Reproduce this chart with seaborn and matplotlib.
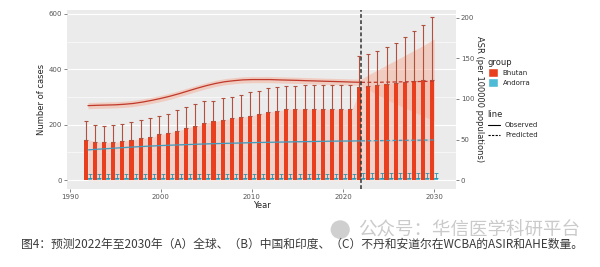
import numpy as np
import pandas as pd
import matplotlib
matplotlib.use("Agg")
import matplotlib.pyplot as plt
from matplotlib.lines import Line2D
from matplotlib.patches import Patch, Ellipse
import seaborn as sns

# ---------------- data ----------------
years = list(range(1992, 2031))
bhutan_cases = [145, 139, 136, 136, 142, 145, 151, 155, 165, 172, 179, 189, 197, 206, 212,
                218, 223, 228, 233, 240, 247, 251, 256, 257, 257, 256, 256, 256, 256, 256,
                337, 341, 345, 348, 351, 354, 357, 360, 363]
bhutan_upper = [212, 200, 196, 199, 202, 210, 216, 224, 230, 240, 252, 263, 275, 284, 287,
                295, 301, 309, 318, 322, 332, 335, 339, 340, 342, 342, 342, 342, 342, 342,
                447, 455, 465, 480, 495, 516, 538, 560, 589]
andorra_cases = [9, 9, 9, 9, 9, 9, 9, 9, 9, 9, 9, 9, 9, 9, 9, 9, 9, 9, 9, 9,
                 9, 9, 9, 9, 9, 9, 9, 9, 9, 9, 8, 8, 8, 8, 8, 8, 8, 8, 8]
andorra_upper = [24, 24, 24, 24, 24, 24, 24, 24, 24, 24, 24, 24, 24, 24, 24, 24, 24, 24, 24, 24,
                 24, 24, 24, 24, 24, 24, 24, 24, 24, 24, 25, 25, 25, 25, 25, 25, 25, 25, 25]
bhutan_asr = [91.8, 92.2, 92.5, 92.8, 93.5, 94.5, 96.2, 98.3, 100.7, 103.4, 106.5, 109.9, 113.3,
              116.4, 119.1, 121.2, 122.5, 123.5, 123.9, 123.9, 123.9, 123.5, 123.2, 122.9, 122.5,
              122.2, 121.8, 121.5, 121.2, 120.8, 120.5, 120.5, 120.6, 120.8, 121.0, 121.2,
              121.4, 121.6, 121.8]
bhutan_asr_lo = [88.0, 88.4, 88.7, 89.0, 89.7, 90.7, 92.4, 94.5, 96.9, 99.6, 102.7, 106.1, 109.5,
                 112.6, 115.3, 117.4, 118.7, 119.7, 120.1, 120.1, 120.1, 119.7, 119.4, 119.1, 118.7,
                 118.4, 118.0, 117.7, 117.4, 117.0, 116.5, 110.0, 104.0, 98.0, 93.0, 88.0,
                 83.0, 78.0, 73.0]
bhutan_asr_hi = [95.6, 96.0, 96.3, 96.6, 97.3, 98.3, 100.0, 102.1, 104.5, 107.2, 110.3, 113.7, 117.1,
                 120.2, 122.9, 125.0, 126.3, 127.3, 127.7, 127.7, 127.7, 127.3, 127.0, 126.7, 126.3,
                 126.0, 125.6, 125.3, 125.0, 124.6, 124.5, 131.0, 137.0, 143.0, 149.0, 155.0,
                 161.0, 167.0, 174.0]
andorra_asr = [37.3, 38.1, 38.8, 39.5, 40.2, 40.9, 41.5, 42.1, 42.6, 43.1, 43.5, 43.9, 44.3,
               44.7, 45.0, 45.3, 45.6, 45.9, 46.2, 46.5, 46.7, 46.9, 47.1, 47.3, 47.5, 47.7,
               47.9, 48.1, 48.2, 48.3, 48.4, 48.55, 48.7, 48.85, 49.0, 49.1, 49.2, 49.35, 49.5]
andorra_asr_lo = [36.6, 37.4, 38.1, 38.8, 39.5, 40.2, 40.8, 41.4, 41.9, 42.4, 42.8, 43.2, 43.6,
                  44.0, 44.3, 44.6, 44.9, 45.2, 45.5, 45.8, 46.0, 46.2, 46.4, 46.6, 46.8, 47.0,
                  47.2, 47.4, 47.5, 47.6, 47.7, 47.7, 47.7, 47.7, 47.7, 47.7, 47.6, 47.6, 47.6]
andorra_asr_hi = [38.0, 38.8, 39.5, 40.2, 40.9, 41.6, 42.2, 42.8, 43.3, 43.8, 44.2, 44.6, 45.0,
                  45.4, 45.7, 46.0, 46.3, 46.6, 46.9, 47.2, 47.4, 47.6, 47.8, 48.0, 48.2, 48.4,
                  48.6, 48.8, 48.9, 49.0, 49.1, 49.4, 49.7, 50.0, 50.3, 50.5, 50.8, 51.1, 51.4]
groups = ["Bhutan", "Andorra"]
split_year = 2022
x_ticks = [1990, 2000, 2010, 2020, 2030]
x_minor = [1995, 2005, 2015, 2025]
left_ticks = [0, 200, 400, 600]
left_minor = [100, 300, 500]
right_ticks = [0, 50, 100, 150, 200]
caption = "图4：预测2022年至2030年（A）全球、（B）中国和印度、（C）不丹和安道尔在WCBA的ASIR和AHE数量。"
watermark = "公众号：华信医学科研平台"

# ---------------- style ----------------
sns.set_theme(style="darkgrid")
plt.rcParams["font.family"] = ["DejaVu Sans", "Noto Sans CJK SC"]
RED = "#E8401E"
TEAL = "#4DBBD5"
RED_LINE = "#C0392B"
TEAL_LINE = "#3E9CC0"
SCALE = 2.93
YL = (-32, 614)

df = pd.DataFrame({
    "year": years * 2,
    "cases": bhutan_cases + andorra_cases,
    "group": ["Bhutan"] * len(years) + ["Andorra"] * len(years),
})
yrs = np.array(years, dtype=float)
bc = np.array(bhutan_cases, float)
ac = np.array(andorra_cases, float)

fig = plt.figure(figsize=(6.0, 2.67), dpi=100)
ax = fig.add_axes([0.1117, 0.292, 0.6483, 0.6705])   # bars + left axis
axr = ax.twinx()                                      # background, grid, ribbons
ax2 = ax.twinx()                                      # lines + right axis
axr.set_zorder(1)
ax.set_zorder(2)
ax2.set_zorder(3)
ax.patch.set_visible(False)
ax2.patch.set_visible(False)
axr.patch.set_visible(True)
axr.patch.set_facecolor("#EBEBEB")

for a in (ax, axr, ax2):
    a.set_xlim(1989.7, 2032.4)
    for s in a.spines.values():
        s.set_visible(False)
ax.set_ylim(*YL)
axr.set_ylim(YL[0] / SCALE, YL[1] / SCALE)
ax2.set_ylim(YL[0] / SCALE, YL[1] / SCALE)

# background grid on the bottom layer (aligned with left ticks)
ax.grid(False)
ax2.grid(False)
axr.set_xticks(x_ticks)
axr.set_xticks(x_minor, minor=True)
axr.set_yticks([t / SCALE for t in left_ticks])
axr.set_yticks([t / SCALE for t in left_minor], minor=True)
axr.grid(which="major", color="white", lw=0.8)
axr.grid(which="minor", color="white", lw=0.4)
axr.set_axisbelow(True)
axr.tick_params(which="both", length=0, labelleft=False, labelright=False,
                labelbottom=False)

# ribbons (bottom layer)
axr.fill_between(yrs, bhutan_asr_lo, bhutan_asr_hi, color="#F6A58C", alpha=0.45, lw=0)
axr.fill_between(yrs, andorra_asr_lo, andorra_asr_hi, color="#9BD3E3", alpha=0.5, lw=0)

# pale halo behind Bhutan bars
ax.fill_between(years, 0, bhutan_cases, color="#F7B9A8", alpha=0.5, lw=0, zorder=1)

sns.barplot(data=df, x="year", y="cases", hue="group", hue_order=groups,
            palette=[RED, TEAL], native_scale=True, width=0.9, dodge=True, saturation=1,
            errorbar=None, ax=ax, legend=False, linewidth=0)

ax.errorbar(yrs - 0.225, bc, yerr=[np.zeros_like(bc), np.array(bhutan_upper) - bc],
            fmt="none", ecolor="#B0503F", elinewidth=0.8, capsize=1.6, capthick=0.8, zorder=1.5)
ax.errorbar(yrs + 0.225, ac, yerr=[np.zeros_like(ac), np.array(andorra_upper) - ac],
            fmt="none", ecolor="#2B8FA8", elinewidth=0.6, capsize=1.2, capthick=0.6, zorder=4)

ax.set_xticks(x_ticks)
ax.set_yticks(left_ticks)
ax.tick_params(axis="both", which="major", labelsize=5, colors="#555555", length=2,
               width=0.5, pad=1.5, left=True, bottom=True)
ax.tick_params(axis="both", which="minor", length=0)
ax.set_xlabel("Year", fontsize=6, labelpad=1)
ax.set_ylabel("Number of cases", fontsize=6, labelpad=2)

# lines (top layer)
obs = yrs <= split_year
pred = yrs >= split_year
for vals, lc in [(bhutan_asr, RED_LINE), (andorra_asr, TEAL_LINE)]:
    v = np.array(vals)
    sns.lineplot(x=yrs[obs], y=v[obs], ax=ax2, color=lc, lw=0.9)
    sns.lineplot(x=yrs[pred], y=v[pred], ax=ax2, color=lc, lw=0.9, ls=(0, (3, 2)))
ax2.axvline(split_year, color="#333333", lw=1.1, ls=(0, (2.5, 1.5)))

ax2.set_yticks(right_ticks)
ax2.tick_params(axis="y", labelsize=5, colors="#555555", length=2, width=0.5, pad=1.5,
                right=True, labelright=True, left=False, labelleft=False)
ax2.yaxis.set_label_position("right")
ax2.set_ylabel("ASR (per 100000 populations)", fontsize=6, rotation=270, labelpad=7)

# legends
h1 = [Patch(facecolor=RED, label="Bhutan"), Patch(facecolor=TEAL, label="Andorra")]
leg1 = fig.legend(handles=h1, title="group", loc="upper left", bbox_to_anchor=(0.808, 0.795),
                  frameon=False, fontsize=5, title_fontsize=6, handlelength=1.5, handleheight=1.5,
                  handletextpad=0.7, labelspacing=0.25, borderaxespad=0)
leg1._legend_box.align = "left"
h2 = [Line2D([], [], color="black", lw=0.8, label="Observed"),
      Line2D([], [], color="black", lw=0.8, ls=(0, (2, 1.2)), label="Predicted")]
leg2 = fig.legend(handles=h2, title="line", loc="upper left", bbox_to_anchor=(0.808, 0.6),
                  frameon=False, fontsize=5, title_fontsize=6, handlelength=1.8,
                  handletextpad=0.7, labelspacing=0.55, borderaxespad=0)
leg2._legend_box.align = "left"

# caption and watermark
fig.text(0.503, 0.086, caption, ha="center", va="center", fontsize=8.5, color="#3A3A3A",
         family=["Noto Sans CJK SC", "DejaVu Sans"])
fig.text(0.597, 0.138, watermark, ha="left", va="center", fontsize=13.3, color="#BDBDBD",
         alpha=0.8, family=["Noto Sans CJK SC", "DejaVu Sans"])
fig.patches.append(Ellipse((0.567, 0.14), 0.032, 0.07, transform=fig.transFigure,
                           facecolor="#C4C4C4", edgecolor="none", alpha=0.8))

fig.savefig("out.png", dpi=100, facecolor="white")
